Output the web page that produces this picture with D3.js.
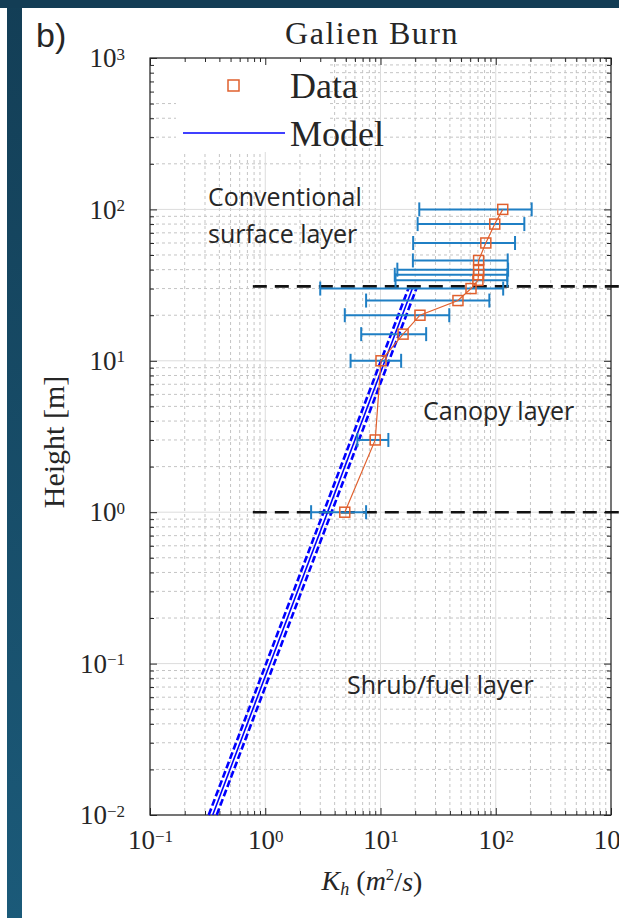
<html>
<head>
<meta charset="utf-8">
<script src="https://cdnjs.cloudflare.com/ajax/libs/d3/7.8.5/d3.min.js"></script>
<style>
  body { margin: 0; background: #fff; }
  text { fill: #262626; }
</style>
</head>
<body>
<div id="chartContainer"></div>
<script type="text/javascript">
  // measured profile (Galien Burn)
  var heights = [1, 3, 10, 15, 20, 25, 30, 34, 37, 40, 46, 60, 80, 100];
  var kData   = [4.9, 9.0, 10.1, 15.7, 22, 47, 61, 70, 71, 71, 71, 82, 98, 115];
  var kLow    = [2.5, 6.3, 5.5, 6.8, 4.9, 7.5, 3.0, 13.5, 13.3, 14, 19.1, 19.2, 21, 21.7];
  var kHigh   = [7.5, 11.7, 15.1, 24.9, 39.5, 88, 116, 126, 126, 128, 127, 147, 177, 205];
  // model line end points
  var modelH = [0.01, 30];
  var modelK = [0.35, 18.9];
  // layer boundaries (m)
  var layerBounds = [31, 1];
  var xMajor = [0.1, 1, 10, 100, 1000];
  var yMajor = [0.01, 0.1, 1, 10, 100, 1000];

  var W = 619, H = 918;
  var svg = d3.select("#chartContainer").append("svg")
    .attr("width", W).attr("height", H);

  // slide frame
  var grad = svg.append("defs").append("linearGradient")
    .attr("id", "strip").attr("x1", 0).attr("y1", 0).attr("x2", 0).attr("y2", 1);
  grad.append("stop").attr("offset", "0%").attr("stop-color", "#133e56");
  grad.append("stop").attr("offset", "100%").attr("stop-color", "#1b5a79");
  svg.append("rect").attr("x", 7).attr("y", 0).attr("width", 15).attr("height", H).attr("fill", "url(#strip)");
  svg.append("rect").attr("x", 0).attr("y", 0).attr("width", W).attr("height", 8).attr("fill", "#133d55");

  var x = d3.scaleLog().domain([0.1, 1000]).range([150, 611]);
  var y = d3.scaleLog().domain([0.01, 1000]).range([815, 58]);

  var isMajor = function (v) { return Math.abs(Math.log10(v) - Math.round(Math.log10(v))) < 1e-9; };
  var xMinor = x.ticks().filter(function (v) { return !isMajor(v); });
  var yMinor = y.ticks().filter(function (v) { return !isMajor(v); });

  // grid
  var grid = svg.append("g");
  grid.selectAll(".gxm").data(xMinor).enter().append("line")
    .attr("x1", x).attr("x2", x).attr("y1", 58).attr("y2", 815)
    .attr("stroke", "#c4c4c4").attr("stroke-dasharray", "3,3");
  grid.selectAll(".gym").data(yMinor).enter().append("line")
    .attr("y1", y).attr("y2", y).attr("x1", 150).attr("x2", 611)
    .attr("stroke", "#c4c4c4").attr("stroke-dasharray", "3,3");
  grid.selectAll(".gx").data(xMajor).enter().append("line")
    .attr("x1", x).attr("x2", x).attr("y1", 58).attr("y2", 815)
    .attr("stroke", "#dcdcdc");
  grid.selectAll(".gy").data(yMajor).enter().append("line")
    .attr("y1", y).attr("y2", y).attr("x1", 150).attr("x2", 611)
    .attr("stroke", "#dcdcdc");

  // legend background hides the grid
  svg.append("rect").attr("x", 176).attr("y", 59).attr("width", 154).attr("height", 93).attr("fill", "#fff");
  svg.append("rect").attr("x", 151).attr("y", 59).attr("width", 30).attr("height", 38).attr("fill", "#fff");

  // axes, ticks inward on all sides
  function sup(sel) {
    sel.selectAll("text").each(function (d) {
      var t = d3.select(this), e = Math.round(Math.log10(d));
      t.text("");
      t.append("tspan").text("10");
      t.append("tspan").attr("dy", "-0.45em").style("font-size", "17px")
        .text(e < 0 ? "\u2212" + (-e) : e);
    });
  }
  function style(g) {
    g.select(".domain").remove();
    g.selectAll("line").attr("stroke", "#262626");
    g.selectAll("text").style("font-family", "'Liberation Serif', serif")
      .style("font-size", "27px").attr("fill", "#262626");
  }
  svg.append("g").attr("transform", "translate(0,815)")
    .call(d3.axisBottom(x).tickValues(xMajor).tickSize(-7).tickPadding(15))
    .call(style).call(sup);
  svg.append("g").attr("transform", "translate(0,815)")
    .call(d3.axisBottom(x).tickValues(xMinor).tickSize(-4).tickFormat(""))
    .call(style);
  svg.append("g").attr("transform", "translate(0,58)")
    .call(d3.axisTop(x).tickValues(xMajor).tickSize(-7).tickFormat(""))
    .call(style);
  svg.append("g").attr("transform", "translate(0,58)")
    .call(d3.axisTop(x).tickValues(xMinor).tickSize(-4).tickFormat(""))
    .call(style);
  svg.append("g").attr("transform", "translate(150,0)")
    .call(d3.axisLeft(y).tickValues(yMajor).tickSize(-7).tickPadding(25))
    .call(style).call(sup);
  svg.append("g").attr("transform", "translate(150,0)")
    .call(d3.axisLeft(y).tickValues(yMinor).tickSize(-4).tickFormat(""))
    .call(style);
  svg.append("g").attr("transform", "translate(611,0)")
    .call(d3.axisRight(y).tickValues(yMajor).tickSize(-7).tickFormat(""))
    .call(style);
  svg.append("g").attr("transform", "translate(611,0)")
    .call(d3.axisRight(y).tickValues(yMinor).tickSize(-4).tickFormat(""))
    .call(style);
  svg.append("rect").attr("x", 150).attr("y", 58).attr("width", 461).attr("height", 757)
    .attr("fill", "none").attr("stroke", "#262626").attr("stroke-width", 1.2);

  // layer boundaries
  svg.selectAll(".bound").data(layerBounds).enter().append("line")
    .attr("x1", x(0.78)).attr("x2", W).attr("y1", y).attr("y2", y)
    .attr("stroke", "#111").attr("stroke-width", 2.6).attr("stroke-dasharray", "14,8");

  // model
  var mLine = d3.line().x(function (d) { return x(d[1]); }).y(function (d) { return y(d[0]); });
  var mPts = d3.zip(modelH, modelK);
  [-4, 4].forEach(function (dx) {
    svg.append("path").datum(mPts).attr("d", mLine)
      .attr("transform", "translate(" + dx + ",0)")
      .attr("fill", "none").attr("stroke", "#0000ff").attr("stroke-width", 2.6)
      .attr("stroke-dasharray", "7,3");
  });
  svg.append("path").datum(mPts).attr("d", mLine)
    .attr("fill", "none").attr("stroke", "#0000ff").attr("stroke-width", 1.6);

  // error bars
  var pts = heights.map(function (h, i) { return { h: h, k: kData[i], lo: kLow[i], hi: kHigh[i] }; });
  var eb = svg.append("g").attr("stroke", "#1f7fc4").attr("stroke-width", 2);
  eb.selectAll(".bar").data(pts).enter().append("line")
    .attr("x1", function (d) { return x(d.lo); }).attr("x2", function (d) { return x(d.hi); })
    .attr("y1", function (d) { return y(d.h); }).attr("y2", function (d) { return y(d.h); });
  eb.selectAll(".capl").data(pts).enter().append("line")
    .attr("x1", function (d) { return x(d.lo); }).attr("x2", function (d) { return x(d.lo); })
    .attr("y1", function (d) { return y(d.h) - 7; }).attr("y2", function (d) { return y(d.h) + 7; });
  eb.selectAll(".caph").data(pts).enter().append("line")
    .attr("x1", function (d) { return x(d.hi); }).attr("x2", function (d) { return x(d.hi); })
    .attr("y1", function (d) { return y(d.h) - 7; }).attr("y2", function (d) { return y(d.h) + 7; });

  // data line + squares
  svg.append("path").datum(pts)
    .attr("d", d3.line().x(function (d) { return x(d.k); }).y(function (d) { return y(d.h); }))
    .attr("fill", "none").attr("stroke", "#e0602e").attr("stroke-width", 1.2);
  svg.selectAll(".sq").data(pts).enter().append("rect")
    .attr("x", function (d) { return x(d.k) - 5; }).attr("y", function (d) { return y(d.h) - 5; })
    .attr("width", 10).attr("height", 10)
    .attr("fill", "none").attr("stroke", "#e0602e").attr("stroke-width", 1.5);

  // legend
  svg.append("rect").attr("x", 228).attr("y", 80).attr("width", 11).attr("height", 11)
    .attr("fill", "none").attr("stroke", "#e0602e").attr("stroke-width", 1.5);
  svg.append("line").attr("x1", 183).attr("x2", 285).attr("y1", 133).attr("y2", 133)
    .attr("stroke", "#0000ff").attr("stroke-width", 1.5);
  svg.append("text").attr("x", 290).attr("y", 98).text("Data")
    .style("font-family", "'Liberation Serif', serif").style("font-size", "36px");
  svg.append("text").attr("x", 290).attr("y", 146).text("Model")
    .style("font-family", "'Liberation Serif', serif").style("font-size", "36px");

  // layer annotations
  var ann = svg.append("g").style("font-family", "'Open Sans', sans-serif").style("font-size", "25px");
  ann.append("text").attr("x", 208).attr("y", 206).text("Conventional").attr("fill", "#111");
  ann.append("text").attr("x", 208).attr("y", 243).text("surface layer").attr("fill", "#111");
  ann.append("text").attr("x", 423).attr("y", 420).text("Canopy layer").attr("fill", "#111");
  ann.append("text").attr("x", 347).attr("y", 694).text("Shrub/fuel layer").attr("fill", "#111");

  // titles
  svg.append("text").attr("x", 372).attr("y", 44).attr("text-anchor", "middle")
    .style("font-family", "'Liberation Serif', serif").style("font-size", "32px")
    .style("letter-spacing", "1.5px").text("Galien Burn");
  svg.append("text").attr("x", 36).attr("y", 47).text("b)")
    .style("font-family", "'Liberation Sans', Arial, sans-serif").style("font-size", "34px").attr("fill", "#000");
  var xl = svg.append("text").attr("x", 372).attr("y", 890).attr("text-anchor", "middle")
    .style("font-family", "'Liberation Serif', serif").style("font-size", "28px");
  xl.append("tspan").style("font-style", "italic").text("K");
  xl.append("tspan").style("font-style", "italic").style("font-size", "18px").attr("dy", "0.3em").text("h");
  xl.append("tspan").attr("dy", "-0.2em").text(" (");
  xl.append("tspan").style("font-style", "italic").text("m");
  xl.append("tspan").style("font-size", "17px").attr("dy", "-0.55em").text("2");
  xl.append("tspan").attr("dy", "0.36em").text("/");
  xl.append("tspan").style("font-style", "italic").text("s");
  xl.append("tspan").text(")");
  svg.append("text").attr("transform", "translate(64,442) rotate(-90)").attr("text-anchor", "middle")
    .style("font-family", "'Liberation Serif', serif").style("font-size", "30px").text("Height [m]");
</script>
</body>
</html>
